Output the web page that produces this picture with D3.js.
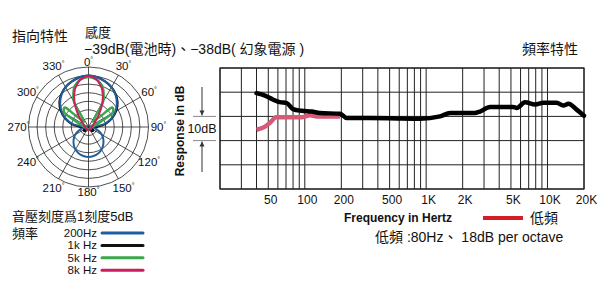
<!DOCTYPE html>
<html>
<head>
<meta charset="utf-8">
<style>
  body { margin: 0; background: #fff; }
  svg { display: block; }
  text { font-family: "Liberation Sans", Arial, "Noto Sans CJK TC", sans-serif; fill: #111; }
  .cjk { font-family: "Liberation Sans", "Noto Sans CJK TC", sans-serif; }
</style>
</head>
<body>
<div id="chart"></div>
<script src="https://d3js.org/d3.v7.min.js"></script>
<script>
  // polar pattern, dB at 0..180 deg (mirrored for the other side)
  const polarAngles = [0, 10, 20, 30, 40, 50, 60, 70, 80, 90, 100, 110, 120, 130, 140, 150, 160, 170, 180];
  const pat200 = [0, -0.5, -1.7, -3.2, -5.5, -8.4, -12, -16, -21, -29, -27, -24, -21, -18.7, -16.6, -14.8, -13.5, -12.8, -12.5];
  const pat1k  = [0, -0.5, -1.7, -3.2, -5.2, -7.8, -11.3, -15.4, -20, -25.3, -27.7, -28.2, -27, -26.5, -27, -27.7, -28.2, -28.2, -28.2];
  const pat5k  = [-0.8, -2, -5.5, -13, -26, -12.5, -14, -24, -27, -28, -28.5, -28.5, -28.5, -28.5, -28.5, -28.5, -28.5, -28.5, -28.5];
  const pat8k  = [-0.2, -2, -6.7, -13.7, -20.7, -24.7, -26.5, -27.1, -27.7, -28.2, -28.2, -28.2, -28.2, -28.2, -28.2, -28.2, -28.2, -28.2, -28.2];
  const ringDb = [5, 0, -5, -10, -15, -20, -25];
  const polarLabels = ["0", "30", "60", "90", "120", "150", "180", "210", "240", "270", "300", "330"];

  // frequency response
  const respFreq = [40, 47, 55, 62, 71, 80, 94, 114, 133, 195, 222, 300, 500, 891, 1300, 1575, 1900, 2500, 2780, 3360, 4100, 5200, 5590, 6530, 7900, 9250, 11900, 13500, 14900, 17400, 20000];
  const respDb   = [9.6, 8.6, 6.9, 5.9, 5.5, 3, 2.3, 2, 1.4, 1.1, -0.7, -0.7, -0.8, -1, 0, 1.4, 1.4, 1.4, 2, 3.9, 3.9, 3.9, 3.5, 5.8, 4.9, 5.6, 5.6, 4.5, 5.2, 2.8, 0.3];
  const lowFreq = [40, 47, 52, 58, 95, 111, 125, 195];
  const lowDb   = [-5.5, -4.2, -2.5, -0.3, -0.3, 0.5, 0, 0];
  const xTickValues = [50, 100, 200, 500, 1000, 2000, 5000, 10000, 20000];
  const xTickLabels = ["50", "100", "200", "500", "1K", "2K", "5K", "10K", "20K"];
  const yGrid = [-30, -20, -10, 0, 10, 20];

  const svg = d3.select("#chart").append("svg")
    .attr("width", 600).attr("height", 300);

  // ---------- titles ----------
  svg.append("text").attr("class", "cjk").attr("x", 12).attr("y", 41)
    .style("font-size", "14px").text("指向特性");
  svg.append("text").attr("class", "cjk").attr("x", 85).attr("y", 37)
    .style("font-size", "13px").text("感度");
  svg.append("text").attr("class", "cjk").attr("x", 84).attr("y", 54)
    .style("font-size", "14px").text("−39dB(電池時)、−38dB( 幻象電源 )");
  svg.append("text").attr("class", "cjk").attr("x", 578).attr("y", 54)
    .attr("text-anchor", "end").style("font-size", "14px").text("頻率特性");

  // ---------- polar ----------
  const cx = 88.5, cy = 127;
  const r = d3.scaleLinear().domain([-30, 5]).range([0, 60]);
  const pg = svg.append("g").attr("transform", "translate(" + cx + "," + cy + ")");

  pg.selectAll("circle.ring").data(ringDb).enter().append("circle")
    .attr("r", d => r(d)).attr("fill", "none").attr("stroke", "#222").attr("stroke-width", 0.8);

  pg.selectAll("line.spoke").data(d3.range(0, 360, 30)).enter().append("line")
    .attr("x1", 0).attr("y1", 0)
    .attr("x2", d => r(5) * Math.sin(d * Math.PI / 180))
    .attr("y2", d => -r(5) * Math.cos(d * Math.PI / 180))
    .attr("stroke", "#222").attr("stroke-width", 0.8);

  const fullPattern = (vals) => {
    const pts = polarAngles.map((a, i) => [a, vals[i]]);
    for (let i = polarAngles.length - 2; i > 0; i--) pts.push([360 - polarAngles[i], vals[i]]);
    return pts;
  };
  const radial = d3.lineRadial()
    .angle(d => d[0] * Math.PI / 180)
    .radius(d => r(d[1]))
    .curve(d3.curveCardinalClosed.tension(0.3));

  const patterns = [
    { vals: pat1k, color: "#111111", w: 2 },
    { vals: pat200, color: "#1f5f9f", w: 2 },
    { vals: pat5k, color: "#3aa74a", w: 2.4 },
    { vals: pat8k, color: "#cc1d5e", w: 2 }
  ];
  pg.selectAll("path.pat").data(patterns).enter().append("path")
    .attr("d", d => radial(fullPattern(d.vals)))
    .attr("fill", "none").attr("stroke", d => d.color).attr("stroke-width", d => d.w);

  const lbl = pg.selectAll("text.deg").data(polarLabels).enter().append("text")
    .attr("x", (d, i) => (i % 6 === 0 ? 65 : 70) * Math.sin(i * 30 * Math.PI / 180))
    .attr("y", (d, i) => -(i % 6 === 0 ? 65 : 70) * Math.cos(i * 30 * Math.PI / 180))
    .attr("text-anchor", "middle").attr("dominant-baseline", "central")
    .style("font-size", "11.5px");
  lbl.append("tspan").text(d => d);
  lbl.append("tspan").attr("dy", -3).style("font-size", "7px").text("°");

  // ---------- polar legend ----------
  svg.append("text").attr("class", "cjk").attr("x", 12).attr("y", 221)
    .style("font-size", "13px").text("音壓刻度爲1刻度5dB");
  svg.append("text").attr("class", "cjk").attr("x", 12).attr("y", 238)
    .style("font-size", "13px").text("頻率");
  const legendItems = [
    { label: "200Hz", color: "#1f5f9f" },
    { label: "1k Hz", color: "#111111" },
    { label: "5k Hz", color: "#3aa74a" },
    { label: "8k Hz", color: "#cc1d5e" }
  ];
  const lg = svg.selectAll("g.leg").data(legendItems).enter().append("g")
    .attr("transform", (d, i) => "translate(0," + (233 + i * 12.4) + ")");
  lg.append("text").attr("x", 97).attr("y", 4).attr("text-anchor", "end")
    .style("font-size", "11.5px").text(d => d.label);
  lg.append("line").attr("x1", 102).attr("x2", 143).attr("y1", 0).attr("y2", 0)
    .attr("stroke", d => d.color).attr("stroke-width", 3).attr("stroke-linecap", "round");

  // ---------- frequency response ----------
  const x = d3.scaleLog().domain([20, 20000]).range([220, 584]);
  const y = d3.scaleLinear().domain([-30, 20]).range([189, 68]);

  const gridFreq = [];
  [10, 100, 1000].forEach(dec => {
    for (let k = 2; k <= 10; k++) gridFreq.push(k * dec);
  });
  gridFreq.push(20000);

  svg.append("g").selectAll("line").data(gridFreq).enter().append("line")
    .attr("x1", d => x(d)).attr("x2", d => x(d)).attr("y1", y(20)).attr("y2", y(-30))
    .attr("stroke", "#222").attr("stroke-width", 1);
  svg.append("g").selectAll("line").data(yGrid).enter().append("line")
    .attr("x1", x(20)).attr("x2", x(20000)).attr("y1", d => y(d)).attr("y2", d => y(d))
    .attr("stroke", "#222").attr("stroke-width", 1);
  svg.append("rect").attr("x", x(20)).attr("y", y(20))
    .attr("width", x(20000) - x(20)).attr("height", y(-30) - y(20))
    .attr("fill", "none").attr("stroke", "#222").attr("stroke-width", 1.2);

  const xAxis = d3.axisBottom(x).tickValues(xTickValues)
    .tickFormat((d, i) => xTickLabels[i]).tickSize(0).tickPadding(6);
  const xg = svg.append("g").attr("transform", "translate(2," + y(-30) + ")").call(xAxis);
  xg.select(".domain").remove();
  xg.selectAll("text").style("font-size", "12px").style("font-family", "Liberation Sans, Arial, sans-serif").attr("fill", "#111");

  const curve = d3.line().x(d => x(d[0])).y(d => y(d[1])).curve(d3.curveMonotoneX);
  svg.append("path").attr("d", curve(lowFreq.map((f, i) => [f, lowDb[i]])))
    .attr("fill", "none").attr("stroke", "#d85878").attr("stroke-width", 4.5)
    .attr("stroke-linejoin", "round");
  svg.append("path").attr("d", curve(respFreq.map((f, i) => [f, respDb[i]])))
    .attr("fill", "none").attr("stroke", "#000").attr("stroke-width", 4.5)
    .attr("stroke-linejoin", "round").attr("stroke-linecap", "round");

  // y title and 10dB marker
  svg.append("text").attr("transform", "translate(184,131) rotate(-90)")
    .attr("text-anchor", "middle").style("font-size", "12px").style("font-weight", "bold")
    .text("Response in dB");
  svg.append("g").selectAll("line").data([0, -10]).enter().append("line")
    .attr("x1", 193).attr("x2", 216).attr("y1", d => y(d)).attr("y2", d => y(d))
    .attr("stroke", "#888").attr("stroke-width", 1);
  svg.append("text").attr("x", 202).attr("y", (y(0) + y(-10)) / 2)
    .attr("text-anchor", "middle").attr("dominant-baseline", "central")
    .style("font-size", "12.5px").text("10dB");
  const ax = 202;
  svg.append("line").attr("x1", ax).attr("x2", ax).attr("y1", 87).attr("y2", y(0) - 1)
    .attr("stroke", "#333").attr("stroke-width", 1);
  svg.append("path").attr("d", "M" + (ax - 2.5) + "," + (y(0) - 6) + "L" + (ax + 2.5) + "," + (y(0) - 6) + "L" + ax + "," + (y(0) - 1) + "Z")
    .attr("fill", "#333");
  svg.append("line").attr("x1", ax).attr("x2", ax).attr("y1", y(-10) + 1).attr("y2", 172)
    .attr("stroke", "#333").attr("stroke-width", 1);
  svg.append("path").attr("d", "M" + (ax - 2.5) + "," + (y(-10) + 6) + "L" + (ax + 2.5) + "," + (y(-10) + 6) + "L" + ax + "," + (y(-10) + 1) + "Z")
    .attr("fill", "#333");

  // x title and low-cut legend
  svg.append("text").attr("x", 398).attr("y", 222).attr("text-anchor", "middle")
    .style("font-size", "12px").style("font-weight", "bold").text("Frequency in Hertz");
  svg.append("line").attr("x1", 483).attr("x2", 523).attr("y1", 218).attr("y2", 218)
    .attr("stroke", "#d41c24").attr("stroke-width", 4);
  svg.append("text").attr("class", "cjk").attr("x", 530).attr("y", 223)
    .style("font-size", "14px").text("低頻");
  svg.append("text").attr("class", "cjk").attr("x", 375).attr("y", 242)
    .style("font-size", "14px").text("低頻 :80Hz、 18dB per octave");
</script>
</body>
</html>
